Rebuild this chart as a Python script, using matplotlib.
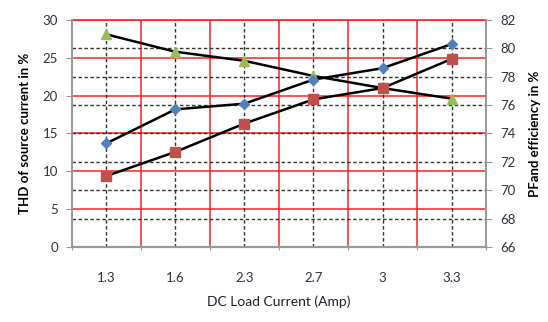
import numpy as np
import matplotlib
matplotlib.use('Agg')
import matplotlib.pyplot as plt
import matplotlib.transforms as mtransforms

plt.rcParams['font.family'] = ['Lato', 'DejaVu Sans']

# data
categories = ['1.3', '1.6', '2.3', '2.7', '3', '3.3']
thd = [28.1, 25.8, 24.6, 22.6, 21.0, 19.6]          # left axis, green triangles
series_blue = [73.3, 75.7, 76.1, 77.8, 78.6, 80.3]  # right axis, blue diamonds
series_red = [71.0, 72.7, 74.7, 76.4, 77.2, 79.25]  # right axis, red squares

left_ticks = [0, 5, 10, 15, 20, 25, 30]
right_ticks = [66, 68, 70, 72, 74, 76, 78, 80, 82]

fig = plt.figure(figsize=(5.48, 3.22), dpi=100)
ax = fig.add_axes([0.131, 0.233, 0.756, 0.705])
ax2 = ax.twinx()

x = np.arange(len(categories))
ax.set_xlim(-0.5, len(categories) - 0.5)
ax.set_ylim(0, 30)
ax2.set_ylim(66, 82)

# grid: red at left-axis ticks and category borders, black dashed at right ticks and centres
for v in left_ticks[1:]:
    ax.axhline(v, color='#ff2020', lw=1.1, zorder=1)
for k in range(len(categories) - 1):
    ax.axvline(k + 0.5, color='#ff2020', lw=1.1, zorder=1)
# right-axis grid drawn on the left axes so that every data line stays on top
trans = mtransforms.blended_transform_factory(ax.transAxes, ax2.transData)
for v in right_ticks[1:-1]:
    ax.plot([0, 1], [v, v], transform=trans, color='#333333', lw=1.0,
            ls=(0, (2.5, 1.8)), zorder=1)
for k in x:
    ax.axvline(k, color='#333333', lw=1.0, ls=(0, (2.5, 1.8)), zorder=1)

ax.plot(x, thd, color='black', lw=1.8, marker='^', ms=7,
        mfc='#9BBB59', mec='#9BBB59', zorder=3)
ax2.plot(x, series_blue, color='black', lw=1.8, marker='D', ms=5.5,
         mfc='#4F81BD', mec='#4F81BD', zorder=3)
ax2.plot(x, series_red, color='black', lw=1.8, marker='s', ms=7.5,
         mfc='#C0504D', mec='#C0504D', zorder=3)

ax.set_yticks(left_ticks)
ax2.set_yticks(right_ticks)
ax.set_xticks(np.arange(-0.5, len(categories), 1.0))
ax.set_xticklabels([''] * (len(categories) + 1))
ax.set_xticks(x, minor=True)
ax.set_xticklabels(categories, minor=True)
ax.tick_params(axis='x', which='minor', length=0, pad=18, labelsize=9.5, labelcolor='#303040')
ax.tick_params(axis='x', which='major', length=4, color='#999999', direction='inout')
ax.tick_params(axis='y', length=4, color='#999999', labelsize=9.5, labelcolor='#303040', pad=6)
ax2.tick_params(axis='y', length=4, color='#999999', labelsize=9.5, labelcolor='#303040', pad=6)

for a in (ax, ax2):
    a.spines['top'].set_visible(False)
    a.spines['left'].set_color('#999999')
    a.spines['right'].set_color('#999999')
    a.spines['bottom'].set_color('#999999')
    a.spines['left'].set_linewidth(1.2)
    a.spines['right'].set_linewidth(1.2)
    a.spines['bottom'].set_linewidth(1.5)
ax.axhline(30, color='#ff2020', lw=1.2, zorder=1, clip_on=False)

ax.set_ylabel('THD of source current in %', fontsize=9.5, fontweight='bold', labelpad=8)
ax2.set_ylabel('PFand efficiency in %', fontsize=9.5, fontweight='bold', labelpad=10)
ax.set_xlabel('DC Load Current (Amp)', fontsize=10, color='#202030', labelpad=8)

fig.savefig('out.png', dpi=100)
